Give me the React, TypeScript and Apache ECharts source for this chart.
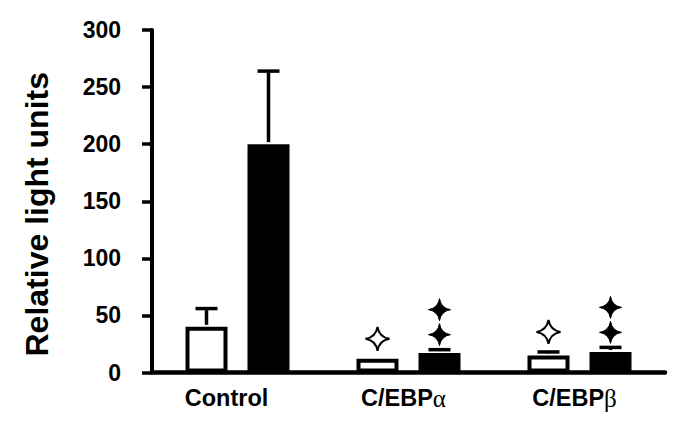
import React, { useEffect, useRef } from "react";
import * as echarts from "echarts";

const categories = ["Control", "C/EBPα", "C/EBPβ"];
const openValues = [40, 12, 15];
const openErrorTops = [56, 12, 18];
const filledValues = [200, 17, 18];
const filledErrorTops = [264, 20, 22];
const openStars = [0, 1, 1];
const filledStars = [0, 2, 2];
const yTicks = [0, 50, 100, 150, 200, 250, 300];

const FONT = "'Liberation Sans', Arial, Helvetica, sans-serif";
const BAR_W = 42;
const BAR_BORDER = 4;
const CENTER_DIST = 62;
const HALF = CENTER_DIST / 2;
const STAR_PATH =
  "M0,-10 Q1.4,-1.4 10,0 Q1.4,1.4 0,10 Q-1.4,1.4 -10,0 Q-1.4,-1.4 0,-10 Z";

export default function App() {
  const ref = useRef<HTMLDivElement>(null);

  useEffect(() => {
    if (!ref.current) return;
    const chart = echarts.init(ref.current, undefined, { renderer: "svg" });

    const errData = [
      ...openErrorTops.map((t, i) => [i, openValues[i], t, -1]),
      ...filledErrorTops.map((t, i) => [i, filledValues[i], t, 1]),
    ];
    const starData = [
      ...openStars.map((n, i) => [i, openErrorTops[i], n, -1]),
      ...filledStars.map((n, i) => [i, filledErrorTops[i], n, 1]),
    ];

    chart.setOption({
      animation: false,
      backgroundColor: "#ffffff",
      grid: { left: 152, right: 20, top: 30, bottom: 57.5 },
      xAxis: {
        type: "category",
        data: categories,
        axisLine: { lineStyle: { color: "#000", width: 4.5 } },
        axisTick: { show: false },
        axisLabel: {
          margin: 13,
          formatter: (v: string) =>
            v.startsWith("C/EBP") ? `{a|C/EBP}{g|${v.slice(5)}}{p|}` : `{c|${v}}`,
          rich: {
            a: { fontFamily: FONT, fontWeight: "bold", fontSize: 23.5, color: "#000" },
            c: { fontFamily: FONT, fontWeight: "bold", fontSize: 23.5, color: "#000", padding: [0, 22, 0, 0] },
            g: { fontFamily: "'Liberation Serif', 'Times New Roman', serif", fontWeight: "normal", fontSize: 25, color: "#000" },
            p: { width: 10 },
          },
        },
      },
      yAxis: {
        type: "value",
        min: yTicks[0],
        max: yTicks[yTicks.length - 1],
        interval: 50,
        name: "Relative light units",
        nameLocation: "middle",
        nameGap: 99,
        nameTextStyle: {
          fontFamily: FONT,
          fontWeight: "bold",
          fontSize: 32,
          color: "#000",
          padding: [0, 26, 0, 0],
        },
        axisLine: { show: true, lineStyle: { color: "#000", width: 4 } },
        axisTick: { show: true, inside: false, length: 10, lineStyle: { color: "#000", width: 3.5 } },
        splitLine: { show: false },
        axisLabel: { margin: 31, fontFamily: FONT, fontWeight: "bold", fontSize: 23, color: "#000" },
      },
      series: [
        {
          type: "bar",
          data: openValues,
          barWidth: BAR_W,
          barGap: `${((CENTER_DIST - BAR_W) / BAR_W) * 100}%`,
          itemStyle: { color: "#fff", borderColor: "#000", borderWidth: BAR_BORDER },
        },
        {
          type: "bar",
          data: filledValues,
          barWidth: BAR_W,
          itemStyle: { color: "#000", borderColor: "#000", borderWidth: BAR_BORDER },
        },
        {
          type: "custom",
          data: errData,
          z: 1,
          renderItem: (params: any, api: any) => {
            if (api.value(2) <= api.value(1)) return { type: "group", children: [] };
            const side = api.value(3);
            const base = api.coord([api.value(0), api.value(1)]);
            const top = api.coord([api.value(0), api.value(2)]);
            const x = base[0] + side * HALF;
            const yBase = base[1] - BAR_BORDER / 2;
            const style = { stroke: "#000", lineWidth: 3.5 };
            return {
              type: "group",
              children: [
                { type: "line", shape: { x1: x, y1: yBase, x2: x, y2: top[1] }, style },
                { type: "line", shape: { x1: x - 11, y1: top[1], x2: x + 11, y2: top[1] }, style },
              ],
            };
          },
        },
        {
          type: "custom",
          data: starData,
          z: 3,
          renderItem: (params: any, api: any) => {
            const side = api.value(3);
            const n = api.value(2);
            const top = api.coord([api.value(0), api.value(1)]);
            const x = top[0] + side * HALF;
            const children: any[] = [];
            if (side < 0) {
              for (let k = 0; k < n; k++) {
                children.push({
                  type: "path",
                  shape: { pathData: STAR_PATH, x: x - 12, y: top[1] - 20 - 14, width: 24, height: 28 },
                  style: { fill: "#fff", stroke: "#000", lineWidth: 2 },
                });
              }
            } else {
              for (let k = 0; k < n; k++) {
                const cy = top[1] - 15 - k * 25;
                children.push({
                  type: "path",
                  shape: { pathData: STAR_PATH, x: x - 11, y: cy - 12, width: 22, height: 24 },
                  style: { fill: "#000", stroke: "#000", lineWidth: 1 },
                });
              }
            }
            return { type: "group", children };
          },
        },
      ],
    });

    return () => chart.dispose();
  }, []);

  return <div ref={ref} style={{ width: 685, height: 430, margin: -8 }} />;
}
